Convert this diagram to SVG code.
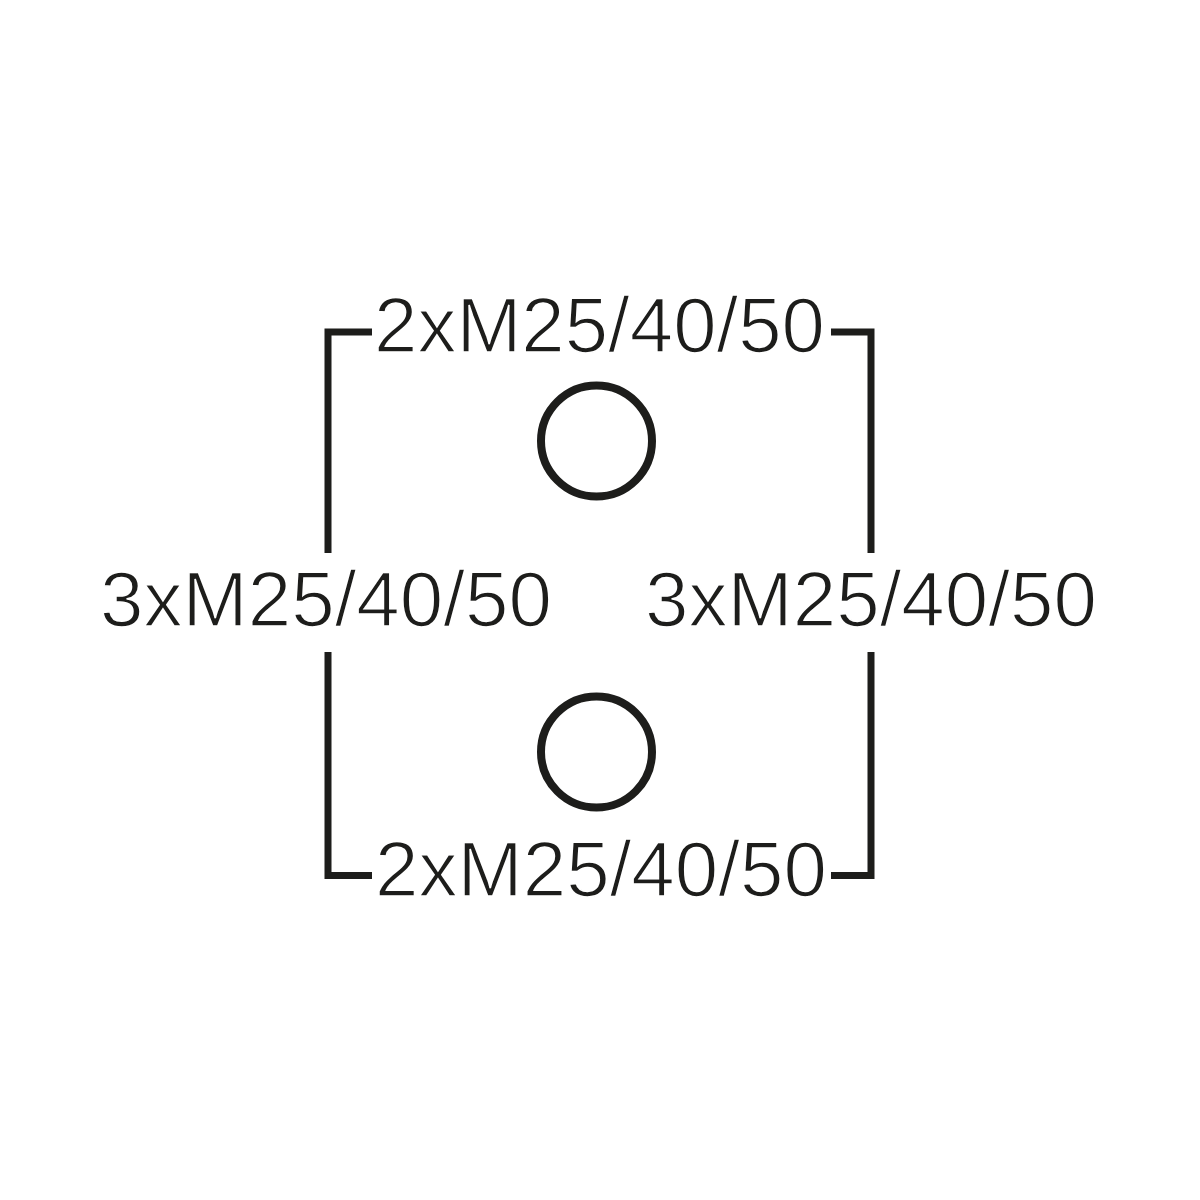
<svg xmlns="http://www.w3.org/2000/svg" width="1200" height="1200" viewBox="0 0 1200 1200">
<style>
.ln{fill:none;stroke:#1d1d1b;stroke-width:7;stroke-linejoin:miter;stroke-linecap:butt}
.hole{fill:none;stroke:#1d1d1b;stroke-width:8}
.lbl{font-family:"Liberation Sans",Arial,sans-serif;font-size:78px;fill:#1d1d1b;stroke:#ffffff;stroke-width:1.6}
</style>
<rect width="1200" height="1200" fill="#ffffff"/>
<g id="connectors">
<path class="ln" d="M328,553 V332 H372"/>
<path class="ln" d="M831,332 H871 V553"/>
<path class="ln" d="M328,652 V875.5 H372"/>
<path class="ln" d="M831,875.5 H871 V652"/>
</g>
<g id="hole-top"><circle class="hole" cx="596.5" cy="441" r="55.5"/></g>
<g id="hole-bottom"><circle class="hole" cx="596.5" cy="752" r="55.5"/></g>
<g id="label-top"><text class="lbl" x="374" y="352" textLength="451" lengthAdjust="spacingAndGlyphs">2xM25/40/50</text></g>
<g id="label-left"><text class="lbl" x="100" y="626" textLength="452" lengthAdjust="spacingAndGlyphs">3xM25/40/50</text></g>
<g id="label-right"><text class="lbl" x="645" y="626" textLength="452" lengthAdjust="spacingAndGlyphs">3xM25/40/50</text></g>
<g id="label-bottom"><text class="lbl" x="375" y="896" textLength="452" lengthAdjust="spacingAndGlyphs">2xM25/40/50</text></g>
</svg>
